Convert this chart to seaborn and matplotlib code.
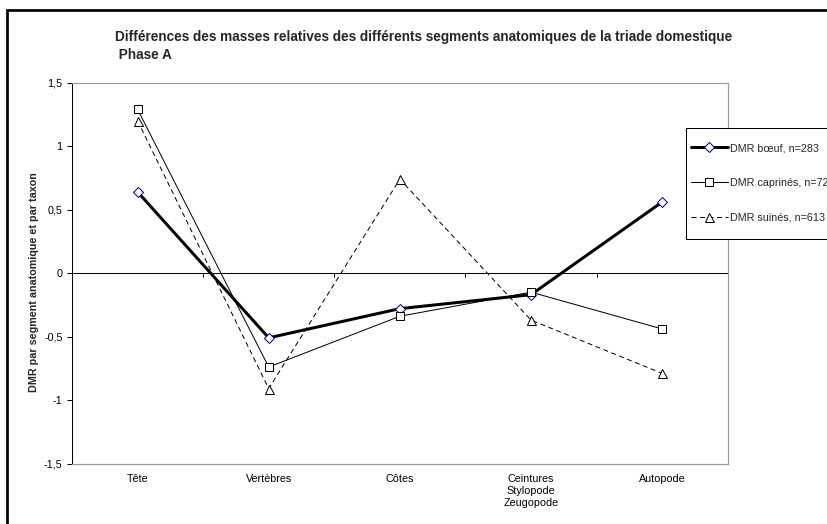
import numpy as np
import pandas as pd
import matplotlib
matplotlib.use("Agg")
import matplotlib.pyplot as plt
from matplotlib.patches import Rectangle
from matplotlib.lines import Line2D
import seaborn as sns

# ---- data -------------------------------------------------------------
categories = ["Tête", "Vertèbres", "Côtes", "Ceintures\nStylopode\nZeugopode", "Autopode"]
boeuf = [0.64, -0.51, -0.28, -0.17, 0.56]
caprines = [1.29, -0.74, -0.34, -0.15, -0.44]
suines = [1.20, -0.91, 0.74, -0.37, -0.79]
series_labels = ["DMR bœuf, n=283", "DMR caprinés, n=72", "DMR suinés, n=613"]
yticks = [-1.5, -1.0, -0.5, 0.0, 0.5, 1.0, 1.5]
ytick_labels = ["-1,5", "-1", "-0,5", "0", "0,5", "1", "1,5"]
title_line1 = "Différences des masses relatives des différents segments anatomiques de la triade domestique"
title_line2 = " Phase A"
ylabel = "DMR par segment anatomique et par taxon"

# ---- style ------------------------------------------------------------
sns.set_style("white")
plt.rcParams["font.family"] = ["Liberation Sans", "DejaVu Sans"]

W, H = 828, 524
DPI = 100
fig = plt.figure(figsize=(W / DPI, H / DPI), dpi=DPI)
fig.patch.set_facecolor("white")

def fx(px):
    return px / W

def fy(py):
    return 1 - py / H

# plot area
L, T, R, B = 72, 82.7, 727.7, 463.5
ax = fig.add_axes([fx(L), fy(B), fx(R - L), (B - T) / H])
ax.set_facecolor("white")

x = np.arange(len(categories))
df = pd.DataFrame({"x": x, "boeuf": boeuf, "caprines": caprines, "suines": suines})

PX = 72 / DPI  # points per pixel
FS = 10.7 * PX

styles = [
    dict(col="boeuf", lw=3.0 * PX, marker="D", ms=6.4 * PX, mec="#000080", dashes=None),
    dict(col="caprines", lw=1.0 * PX, marker="s", ms=8.5 * PX, mec="black", dashes=None),
    dict(col="suines", lw=1.0 * PX, marker="^", ms=9.0 * PX, mec="black", dashes=(5, 3.5)),
]

handles = []
for st, lab in zip(styles, series_labels):
    sns.lineplot(data=df, x="x", y=st["col"], ax=ax, color="black", linewidth=st["lw"],
                 marker=st["marker"], markersize=st["ms"], markerfacecolor="white",
                 markeredgecolor=st["mec"], markeredgewidth=1.0 * PX, sort=False,
                 legend=False)
    line = ax.get_lines()[-1]
    if st["dashes"] is not None:
        line.set_dashes(st["dashes"])
    h = Line2D([], [], color="black", linewidth=st["lw"], marker=st["marker"],
               markersize=st["ms"], markerfacecolor="white", markeredgecolor=st["mec"],
               markeredgewidth=1.0 * PX)
    if st["dashes"] is not None:
        h.set_dashes(st["dashes"])
    handles.append(h)

ax.set_xlim(-0.5, len(categories) - 0.5)
ax.set_ylim(-1.5, 1.5)
ax.axhline(0, color="black", linewidth=1.0 * PX, zorder=1)
# category-boundary ticks on the zero line
ax.vlines(np.arange(len(categories)) + 0.5, -0.03, 0, color="black", linewidth=1.0 * PX, zorder=1)

ax.set_yticks(yticks)
ax.set_yticklabels(ytick_labels, fontsize=FS)
ax.set_xticks(x)
ax.set_xticklabels(categories, fontsize=FS, linespacing=1.27)
ax.tick_params(axis="y", direction="out", length=5 * PX, width=1.0 * PX, pad=4.3 * PX,
               left=True, colors="black")
ax.tick_params(axis="x", length=0, pad=10 * PX, colors="black")
for lbl in ax.get_xticklabels():
    lbl.set_va("top")

for side in ["top", "right", "bottom"]:
    ax.spines[side].set_color("#9a9a9a")
    ax.spines[side].set_linewidth(1.2 * PX)
ax.spines["left"].set_color("black")
ax.spines["left"].set_linewidth(1.0 * PX)
ax.set_xlabel("")
ax.set_ylabel(ylabel, fontsize=FS, fontweight="bold")
ax.yaxis.label.set_va("center")
ax.yaxis.set_label_coords((34 - L) / (R - L), (B - 282) / (B - T))

# title (two lines), fitted to reference width
t1 = fig.text(fx(115), fy(37), title_line1, ha="left", va="center", fontweight="bold", fontsize=9)
t2 = fig.text(fx(115), fy(55), title_line2, ha="left", va="center", fontweight="bold", fontsize=9)
fig.canvas.draw()
r = fig.canvas.get_renderer()
w = t1.get_window_extent(r).width
fs_title = 9 * (732 - 115) / w
t1.set_fontsize(fs_title)
t2.set_fontsize(fs_title)

# legend box
lx0, ly0, ly1 = 686, 127.5, 239
fig.patches.append(Rectangle((fx(lx0), fy(ly1)), fx(300), (ly1 - ly0) / H,
                             transform=fig.transFigure, facecolor="white",
                             edgecolor="black", linewidth=1.0 * PX, zorder=5))
leg = fig.legend(handles, series_labels, loc="center left",
                 bbox_to_anchor=(fx(690.7), fy(182.7)), frameon=False,
                 fontsize=FS, handlelength=37.6 / 10.7, handletextpad=0.16,
                 labelspacing=2.3, borderpad=0, borderaxespad=0)
leg.set_zorder(6)

# outer chart frame (cut off at right and bottom)
fig.patches.append(Rectangle((fx(6.7), -0.2), 1.5, fy(10.3) + 0.2,
                             transform=fig.transFigure, facecolor="none",
                             edgecolor="black", linewidth=2.7 * PX, zorder=10))

fig.savefig("out.png", dpi=DPI, facecolor="white")
